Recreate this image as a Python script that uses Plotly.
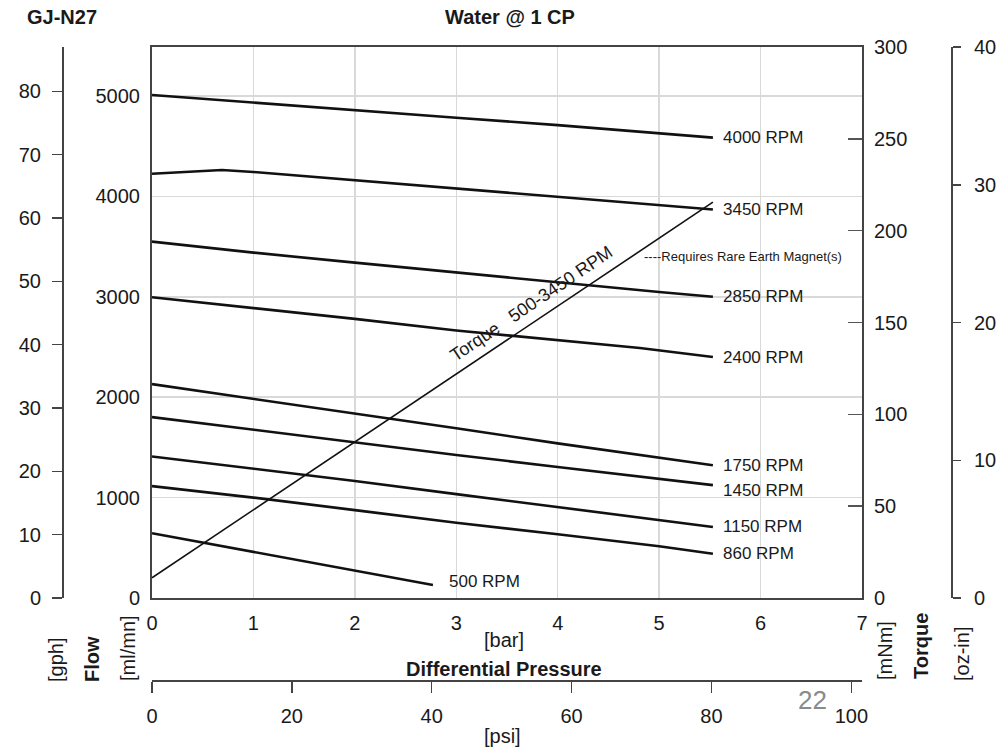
import plotly.graph_objects as go

# ---------------- data ----------------
# differential pressure points [bar]
p_std = [0, 1, 2, 3, 4, 5, 5.53]
p_3450 = [0, 0.69, 1, 2, 3, 4, 5, 5.53]
p_2400 = [0, 1, 2, 3, 4, 4.81, 5.53]
p_500 = [0, 1, 2, 2.77]

# flow [ml/mn]
flow_4000 = [5010, 4933, 4853, 4783, 4710, 4633, 4585]
flow_3450 = [4225, 4263, 4243, 4160, 4080, 3990, 3910, 3870]
flow_2850 = [3550, 3440, 3340, 3240, 3140, 3047, 3000]
flow_2400 = [2995, 2890, 2780, 2665, 2565, 2490, 2400]
flow_1750 = [2130, 1985, 1838, 1690, 1540, 1395, 1322]
flow_1450 = [1802, 1675, 1550, 1425, 1305, 1190, 1124]
flow_1150 = [1410, 1290, 1165, 1035, 905, 780, 708]
flow_860 = [1114, 1000, 875, 750, 635, 515, 440]
flow_500 = [645, 459, 277, 130]

rpm_labels = ["4000 RPM", "3450 RPM", "2850 RPM", "2400 RPM", "1750 RPM",
              "1450 RPM", "1150 RPM", "860 RPM", "500 RPM"]

# torque line [mNm]
torque_p = [0, 5.53]
torque_mNm = [11, 215.5]

bar_ticks = [0, 1, 2, 3, 4, 5, 6, 7]
flow_ticks = [0, 1000, 2000, 3000, 4000, 5000]
gph_ticks = [0, 10, 20, 30, 40, 50, 60, 70, 80]
mnm_ticks = [0, 50, 100, 150, 200, 250, 300]
ozin_ticks = [0, 10, 20, 30, 40]
psi_ticks = [0, 20, 40, 60, 80, 100]

# ---------------- layout helpers ----------------
W, H = 1007, 748
FONT = "Liberation Sans, Arial, sans-serif"
def fx(x):
    return x / W
def fy(y):
    return 1 - y / H

FLOW_MAX = 5488.0
GPH_PER_MLMN = 1 / 63.09
BAR_MAX = 7.0
PSI_PER_BAR = 14.5038

x_dom = [fx(152), fx(862)]
y_dom = [fy(598), fy(47)]

curves = [
    (p_std, flow_4000), (p_3450, flow_3450), (p_std, flow_2850),
    (p_2400, flow_2400), (p_std, flow_1750), (p_std, flow_1450),
    (p_std, flow_1150), (p_std, flow_860), (p_500, flow_500),
]
label_shift = {"1450 RPM": (8, -5), "500 RPM": (14, 3)}

fig = go.Figure()
for (xs, ys), name in zip(curves, rpm_labels):
    fig.add_trace(go.Scatter(x=xs, y=ys, mode="lines", name=name,
                             line=dict(color="#111111", width=2.6),
                             showlegend=False, hoverinfo="skip"))

fig.add_trace(go.Scatter(x=torque_p, y=torque_mNm, mode="lines", yaxis="y2",
                         line=dict(color="#111111", width=1.6),
                         showlegend=False, hoverinfo="skip"))
# empty traces to register the secondary scales
fig.add_trace(go.Scatter(x=[], y=[], yaxis="y3", showlegend=False))
fig.add_trace(go.Scatter(x=[], y=[], yaxis="y4", showlegend=False))
fig.add_trace(go.Scatter(x=[], y=[], xaxis="x2", showlegend=False))

tickfont = dict(family=FONT, size=20, color="#1a1a1a")
AX = "#444444"
GRID = "#d9d9d9"

annotations = []
for (xs, ys), name in zip(curves, rpm_labels):
    dx, dy = label_shift.get(name, (8, 0))
    annotations.append(dict(x=xs[-1], y=ys[-1], xref="x", yref="y", text=name,
                            showarrow=False, xanchor="left", yanchor="middle",
                            xshift=dx, yshift=dy,
                            font=dict(family=FONT, size=17, color="#1a1a1a")))

def txt(text, x, y, size=20, bold=False, angle=0, color="#1a1a1a", xanchor="center"):
    t = f"<b>{text}</b>" if bold else text
    annotations.append(dict(x=fx(x), y=fy(y), xref="paper", yref="paper", text=t,
                            showarrow=False, xanchor=xanchor, yanchor="middle",
                            textangle=angle,
                            font=dict(family=FONT, size=size, color=color)))

txt("GJ-N27", 62, 17, size=20, bold=True)
txt("Water @ 1 CP", 510, 17, size=20, bold=True)
txt("[gph]", 56, 660, angle=-90)
txt("Flow", 92, 659, bold=True, angle=-90)
txt("[ml/mn]", 128, 648, angle=-90)
txt("[mNm]", 885, 651, angle=-90)
txt("Torque", 921, 646, bold=True, angle=-90)
txt("[oz-in]", 962, 654, angle=-90)
txt("[bar]", 504, 640)
txt("Differential Pressure", 504, 669, bold=True)
txt("[psi]", 502, 736)
txt("----Requires Rare Earth Magnet(s)", 743, 257, size=13)
txt("Torque\u00a0\u00a0\u00a0500-3450 RPM", 531, 304, size=18, angle=-34)
txt("22", 812, 700, size=26, color="#8a8a8a")

fig.update_layout(
    template="none",
    width=W, height=H,
    margin=dict(l=0, r=0, t=0, b=0),
    paper_bgcolor="white", plot_bgcolor="white",
    font=dict(family=FONT, size=20, color="#1a1a1a"),
    showlegend=False,
    annotations=annotations,
    xaxis=dict(domain=x_dom, range=[0, BAR_MAX], tickvals=bar_ticks,
               showgrid=True, gridcolor=GRID, gridwidth=1.5,
               showline=True, linecolor=AX, linewidth=2, mirror=True,
               ticks="", ticklabelstandoff=6, tickfont=tickfont,
               zeroline=False, automargin=False, fixedrange=True),
    yaxis=dict(domain=y_dom, range=[0, FLOW_MAX], tickvals=flow_ticks,
               showgrid=True, gridcolor=GRID, gridwidth=1.5,
               showline=True, linecolor=AX, linewidth=2, mirror=True,
               ticks="", ticklabelstandoff=6, tickfont=tickfont,
               zeroline=False, automargin=False, fixedrange=True),
    yaxis2=dict(overlaying="y", side="right", anchor="x",
                range=[0, 300], tickvals=mnm_ticks,
                showgrid=False, showline=True, linecolor=AX, linewidth=2,
                ticks="inside", ticklen=14, tickwidth=1.5, tickcolor="#555555",
                ticklabelstandoff=6, tickfont=tickfont,
                zeroline=False, automargin=False, fixedrange=True),
    yaxis3=dict(overlaying="y", side="left", anchor="free", position=fx(63),
                range=[0, FLOW_MAX * GPH_PER_MLMN], tickvals=gph_ticks,
                showgrid=False, showline=True, linecolor=AX, linewidth=2,
                ticks="outside", ticklen=10, tickwidth=1.5, tickcolor=AX,
                ticklabelstandoff=7, tickfont=tickfont,
                zeroline=False, automargin=False, fixedrange=True),
    yaxis4=dict(overlaying="y", side="right", anchor="free", position=fx(952),
                range=[0, 40], tickvals=ozin_ticks,
                showgrid=False, showline=True, linecolor=AX, linewidth=2,
                ticks="outside", ticklen=8, tickwidth=1.5, tickcolor=AX,
                ticklabelstandoff=9, tickfont=tickfont,
                zeroline=False, automargin=False, fixedrange=True),
    xaxis2=dict(overlaying="x", side="bottom", anchor="free", position=fy(681),
                domain=x_dom, range=[0, BAR_MAX * PSI_PER_BAR], tickvals=psi_ticks,
                showgrid=False, showline=True, linecolor=AX, linewidth=2,
                ticks="outside", ticklen=11, tickwidth=1.5, tickcolor=AX,
                ticklabelstandoff=6, tickfont=tickfont,
                zeroline=False, automargin=False, fixedrange=True),
)

fig.write_html("out.html",
               config={"displayModeBar": False, "staticPlot": True},
               post_script="document.body.style.margin='0';"
                           "document.body.style.overflow='hidden';")
